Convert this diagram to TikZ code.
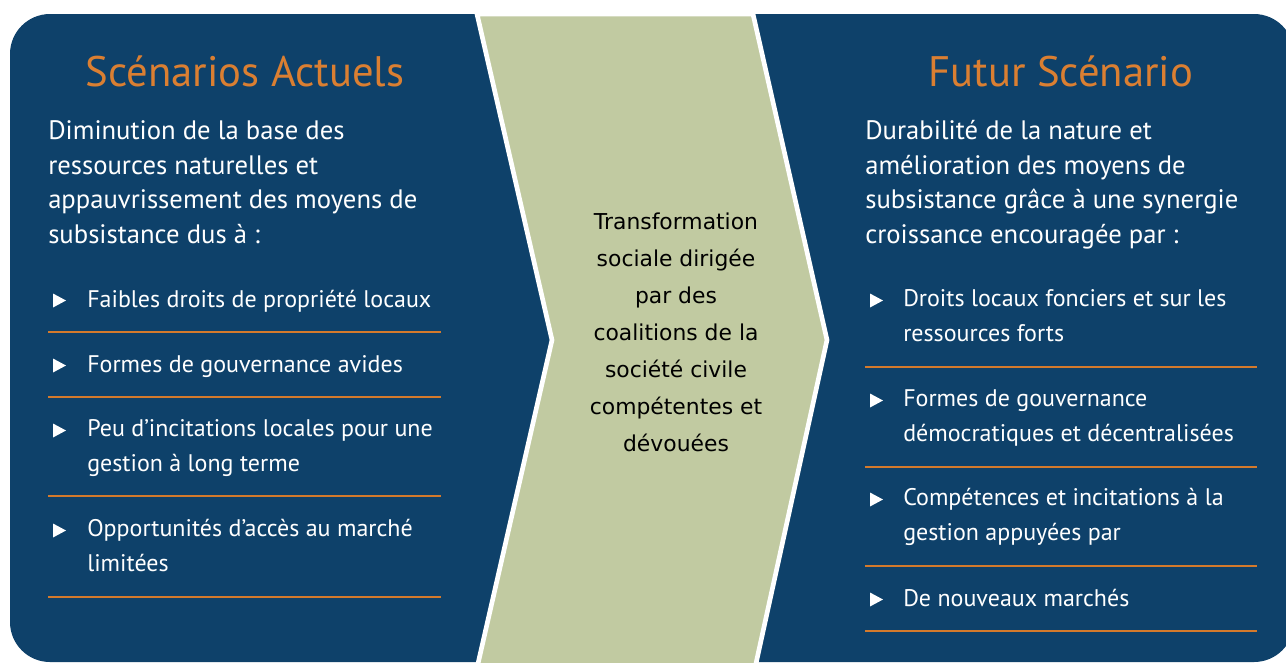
\documentclass[tikz,border=0pt]{standalone}
\usepackage{fontspec}
\setmainfont{PT Sans}
\newfontfamily\midfont{DejaVu Sans}
\usetikzlibrary{positioning}

\definecolor{panelblue}{HTML}{0E416A}
\definecolor{chevgreen}{HTML}{C1CAA1}
\definecolor{headorange}{HTML}{DA7F32}
\definecolor{ruleorange}{HTML}{D47A2C}

% multi-line nodes sit on the baseline of their last line
\tikzset{
  head/.style={anchor=base, inner sep=0pt, text=headorange, font=\fontsize{32}{38}\selectfont},
  para/.style={anchor=base west, inner sep=0pt, align=left, text=white, font=\fontsize{20}{25.9}\selectfont},
  item/.style={para, font=\fontsize{18}{25.9}\selectfont},
  midtext/.style={anchor=base, inner sep=0pt, align=center, text=black, font=\midfont\fontsize{16.4}{27.75}\selectfont},
  sep/.style={ruleorange, line width=1pt},
  pics/tick/.style={code={\fill[white] (0,-7) -- (13,0) -- (0,7) -- cycle;}}
}

\begin{document}
\begin{tikzpicture}[x=0.75pt, y=-0.75pt]
  \useasboundingbox (0,0) rectangle (1286,662);

  % background panel and chevron
  \fill[panelblue, rounded corners=30] (10,14) rectangle (1294,662);
  \filldraw[fill=chevgreen, draw=white, line width=3.5pt]
    (477,14) -- (753,14) -- (827,340) -- (755,668) -- (477,668) -- (552,340) -- cycle;

  % left column
  \node[head] (curhead) at (245,86) {Scénarios Actuels};
  \node[para] (curtext) at (48,243.5) {Diminution de la base des\\ressources naturelles et\\appauvrissement des moyens de\\subsistance dus à :};

  \node[item] (cur1) at (87,307) {Faibles droits de propriété locaux};
  \node[item] (cur2) at (87,372) {Formes de gouvernance avides};
  \node[item] (cur3) at (87,471.5) {Peu d’incitations locales pour une\\gestion à long terme};
  \node[item] (cur4) at (87,571.5) {Opportunités d’accès au marché\\limitées};
  \foreach \y in {300.5,365.5,430.5,530.5}
    \pic at (53,\y) {tick};
  \foreach \y in {332,397,496,597}
    \draw[sep] (48,\y) -- (441,\y);

  % middle
  \node[midtext] (change) at (676,451) {Transformation\\sociale dirigée\\par des\\coalitions de la\\société civile\\compétentes et\\dévouées};

  % right column
  \node[head] (futhead) at (1061,86) {Futur Scénario};
  \node[para] (futtext) at (865,243.5) {Durabilité de la nature et\\amélioration des moyens de\\subsistance grâce à une synergie\\croissance encouragée par :};

  \node[item] (fut1) at (903,341.5) {Droits locaux fonciers et sur les\\ressources forts};
  \node[item] (fut2) at (903,441.5) {Formes de gouvernance\\démocratiques et décentralisées};
  \node[item] (fut3) at (903,540.5) {Compétences et incitations à la\\gestion appuyées par};
  \node[item] (fut4) at (903,606) {De nouveaux marchés};
  \foreach \y in {300.5,400.5,499.5,599.5}
    \pic at (870,\y) {tick};
  \foreach \y in {367,467,566,631}
    \draw[sep] (865,\y) -- (1257,\y);
\end{tikzpicture}
\end{document}
